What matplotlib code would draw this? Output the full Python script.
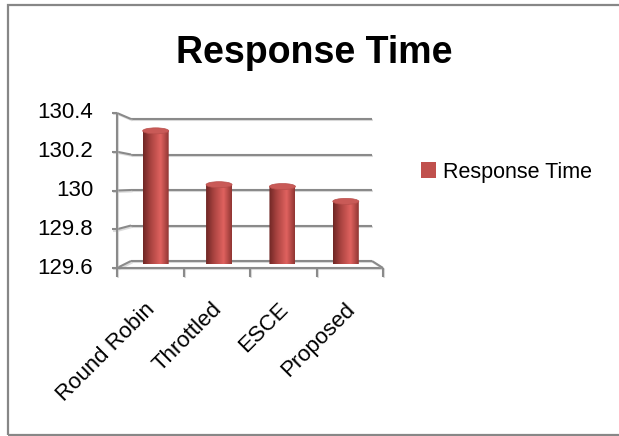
import numpy as np
import matplotlib
matplotlib.use('Agg')
import matplotlib.pyplot as plt
from matplotlib.patches import Rectangle, Ellipse, PathPatch, Patch
from matplotlib.path import Path
from matplotlib.colors import LinearSegmentedColormap
import matplotlib.patheffects as pe

# ---------------- data ----------------
categories = ['Round Robin', 'Throttled', 'ESCE', 'Proposed']
values = [130.32, 130.03, 130.02, 129.94]
y_ticks = [129.6, 129.8, 130.0, 130.2, 130.4]
y_tick_labels = ['129.6', '129.8', '130', '130.2', '130.4']
series_name = 'Response Time'
title = 'Response Time'

# ---------------- figure ----------------
W, H = 619, 436
fig = plt.figure(figsize=(W / 100, H / 100), dpi=100)
fig.patch.set_facecolor('white')

FONT = ['Liberation Sans', 'DejaVu Sans']

# outer chart border
fig.patches.append(Rectangle((8 / W, 1 / H), 1.2, 430 / H, transform=fig.transFigure,
                             fill=False, edgecolor='#878787', lw=1.6))

# axes = middle depth plane of the 3-D chart
ax = fig.add_axes([124 / W, (H - 264.5) / H, 253.5 / W, 148.5 / H])
ymin, ymax = y_ticks[0], y_ticks[-1]
ax.set_xlim(-0.5, len(categories) - 0.5)
ax.set_ylim(ymin, ymax)
ax.axis('off')

PXX = 253.5 / len(categories)          # pixels per category unit
PXY = 148.5 / (ymax - ymin)            # pixels per value unit


def fy(v):   # front plane height
    return ymin + (-3.5 + (v - ymin) * 193.75) / PXY


def by(v):   # back wall height
    return ymin + (3.5 + (v - ymin) * 177.5) / PXY


FX0, FX1 = -0.5 - 7 / PXX, -0.5 + 259 / PXX
BX0, BX1 = -0.5 + 7 / PXX, -0.5 + 248 / PXX

GC = '#8a8a8a'
LW = 1.5
shadow = [pe.SimpleLineShadow(offset=(1, -1), shadow_color='#bbbbbb', alpha=0.5), pe.Normal()]


def line(xs, ys, z=1):
    ax.plot(xs, ys, color=GC, lw=LW, clip_on=False, zorder=z, solid_capstyle='butt',
            path_effects=shadow)


for v, lab in zip(y_ticks, y_tick_labels):
    line([BX0, BX1], [by(v), by(v)], z=1)
    line([FX0, BX0], [fy(v), by(v)], z=1)
    line([FX0 - 5 / PXX, FX0], [fy(v), fy(v)], z=6)
    ax.text(FX0 - 24 / PXX, fy(v), lab, ha='right', va='center', fontsize=16,
            family=FONT, color='black', clip_on=False)

# front axis and floor
line([FX0, FX0], [fy(ymin), fy(ymax)], z=6)
line([FX0, FX1], [fy(ymin), fy(ymin)], z=6)
line([FX1, BX1], [fy(ymin), by(ymin)], z=6)
n = len(categories)
for k in range(n + 1):
    xk = FX0 + k * (FX1 - FX0) / n
    line([xk, xk], [fy(ymin), fy(ymin) - 9 / PXY], z=6)

# category labels
for k, cat in enumerate(categories):
    xc = FX0 + (k + 0.5) * (FX1 - FX0) / n
    ax.text(xc + 2 / PXX, fy(ymin) - 38 / PXY, cat, ha='right', va='center',
            rotation=45, rotation_mode='anchor', fontsize=16, family=FONT,
            color='black', clip_on=False)

# cylinders
cmap = LinearSegmentedColormap.from_list(
    'cyl', [(0, '#6e2624'), (0.3, '#a94340'), (0.68, '#e0625f'), (1, '#8f3532')])
grad = np.linspace(0, 1, 256).reshape(1, -1)
bw = 26 / PXX
eh = 6 / PXY
for i, v in enumerate(values):
    x0, x1 = i - bw / 2, i + bw / 2
    t = np.linspace(np.pi, 2 * np.pi, 40)
    bottom = np.column_stack([i + bw / 2 * np.cos(t), ymin + eh / 2 * np.sin(t)])
    verts = [tuple(p) for p in bottom] + [(x1, v), (x0, v)]
    verts.append(verts[0])
    codes = [Path.MOVETO] + [Path.LINETO] * (len(verts) - 2) + [Path.CLOSEPOLY]
    clip = PathPatch(Path(verts, codes), facecolor='none', edgecolor='none')
    ax.add_patch(clip)
    im = ax.imshow(grad, cmap=cmap, extent=[x0, x1, ymin - eh, v], aspect='auto',
                   zorder=3, interpolation='bilinear')
    im.set_clip_path(clip)
    ax.add_patch(Ellipse((i, v), bw, eh, facecolor='#c95a57', edgecolor='#b84e4b',
                         lw=0.5, zorder=4))

ax.set_xlim(-0.5, len(categories) - 0.5)
ax.set_ylim(ymin, ymax)

# title
fig.text(314.5 / W, 1 - 53 / H, title, ha='center', va='center', fontsize=27,
         weight='bold', family=FONT, color='black')

# legend
fig.legend(handles=[Patch(facecolor='#C0504D', edgecolor='none')], labels=[series_name],
           loc='center left', bbox_to_anchor=(421 / W, 1 - 172 / H), frameon=False,
           borderpad=0, borderaxespad=0, handlelength=0.7, handleheight=0.7,
           handletextpad=0.3, prop={'family': FONT, 'size': 15.5})

fig.savefig('out.png', dpi=100, facecolor='white')
